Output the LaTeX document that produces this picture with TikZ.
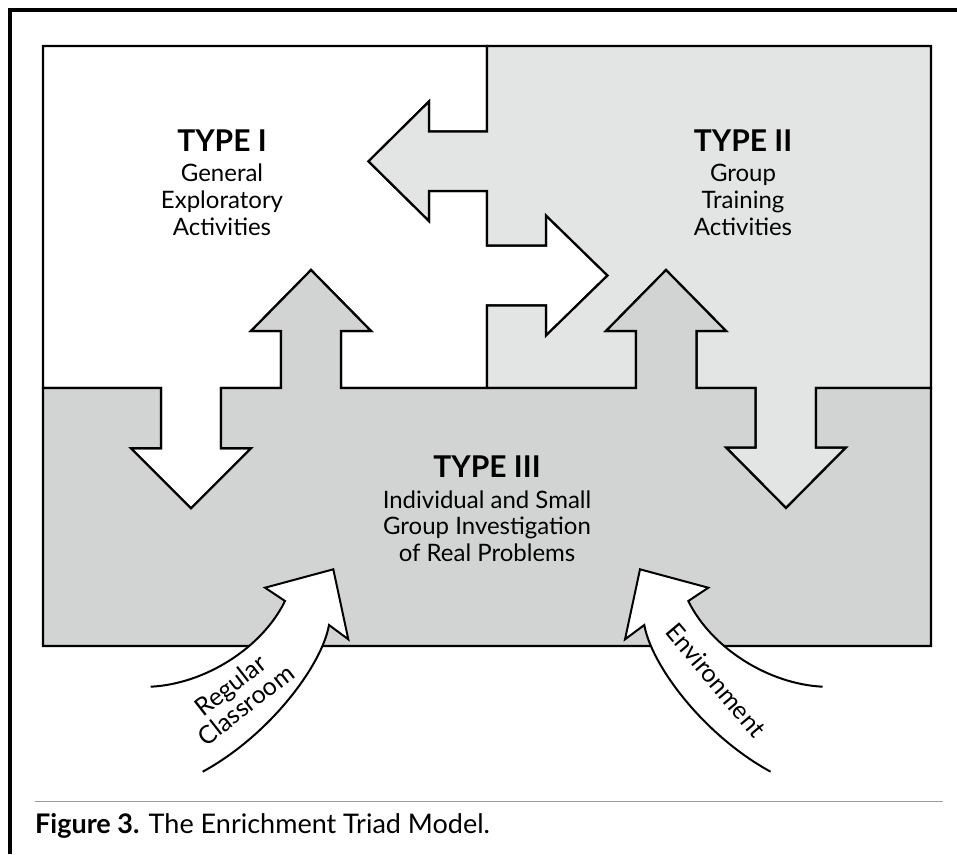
\documentclass[tikz,border=0pt]{standalone}
\usepackage{fontspec}
\setmainfont{Lato}
\definecolor{typetwo}{HTML}{E3E5E4}
\definecolor{typethree}{HTML}{D2D3D3}
\definecolor{capline}{HTML}{9C9C9C}
\begin{document}
\begin{tikzpicture}[x=1pt,y=-1pt,
  region/.style={draw=black,line width=2.2pt,line join=miter},
  curvearrow/.style={draw=black,fill=white,line width=2pt,line join=miter},
  titletext/.style={anchor=base,inner sep=0pt,font=\fontsize{30}{32}\selectfont\bfseries},
  bodytext/.style={anchor=base,inner sep=0pt,font=\fontsize{24}{27}\selectfont},
  arrowtext/.style={align=center,inner sep=0pt,font=\fontsize{25}{25}\selectfont}]
\useasboundingbox (0,0) rectangle (957,854);
% outer frame
\coordinate (frameTL) at (10,10);
\coordinate (frameTR) at (957,10);
\coordinate (frameBL) at (10,854);
\draw[line width=3.5pt] (frameTR) -- (frameTL) -- (frameBL);
% Type I region (white)
\path[region,fill=white] (43,46) -- (487,46) -- (487,131.5) -- (429,131.5) -- (429,101.5)
  -- (368.5,161.3) -- (429,221) -- (429,191) -- (487,191) -- (487,245.5) -- (546,245.5)
  -- (546,215.5) -- (607.5,275.5) -- (546,335.5) -- (546,305.5) -- (487,305.5) -- (487,388)
  -- (341,388) -- (341,331) -- (371,331) -- (311,270) -- (251,331) -- (281,331) -- (281,388)
  -- (221,388) -- (221,448.3) -- (251,448.3) -- (191,508.3) -- (131,448.3) -- (161,448.3)
  -- (161,388) -- (43,388) -- cycle;
% Type II region (light grey)
\path[region,fill=typetwo] (487,46) -- (931,46) -- (931,388) -- (816,388) -- (816,447.5)
  -- (846,447.5) -- (786,508) -- (726,447.5) -- (755.5,447.5) -- (755.5,388) -- (696.5,388)
  -- (696.5,331) -- (726,331) -- (666,270) -- (606,331) -- (636,331) -- (636,388) -- (487,388)
  -- (487,305.5) -- (546,305.5) -- (546,335.5) -- (607.5,275.5) -- (546,215.5) -- (546,245.5)
  -- (487,245.5) -- (487,191) -- (429,191) -- (429,221) -- (368.5,161.3) -- (429,101.5)
  -- (429,131.5) -- (487,131.5) -- cycle;
% Type III region (grey)
\path[region,fill=typethree] (43,388) -- (161,388) -- (161,448.3) -- (131,448.3) -- (191,508.3)
  -- (251,448.3) -- (221,448.3) -- (221,388) -- (281,388) -- (281,331) -- (251,331) -- (311,270)
  -- (371,331) -- (341,331) -- (341,388) -- (636,388) -- (636,331) -- (606,331) -- (666,270)
  -- (726,331) -- (696.5,331) -- (696.5,388) -- (755.5,388) -- (755.5,447.5) -- (726,447.5)
  -- (786,508) -- (846,447.5) -- (816,447.5) -- (816,388) -- (931,388) -- (931,646) -- (43,646)
  -- cycle;
% texts
\node[titletext] (t1) at (222,151) {TYPE I};
\node[bodytext] (t1a) at (222,181) {General};
\node[bodytext] (t1b) at (222,208) {Exploratory};
\node[bodytext] (t1c) at (222,235) {Activities};
\node[titletext] (t2) at (743,151) {TYPE II};
\node[bodytext] (t2a) at (743,181) {Group};
\node[bodytext] (t2b) at (743,208) {Training};
\node[bodytext] (t2c) at (743,235) {Activities};
\node[titletext] (t3) at (487,477) {TYPE III};
\node[bodytext] (t3a) at (487,508) {Individual and Small};
\node[bodytext] (t3b) at (487,534.5) {Group Investigation};
\node[bodytext] (t3c) at (487,561) {of Real Problems};
% curved arrows
\path[curvearrow] (150.7,686.7) .. controls (205,684) and (262,648) .. (285,601)
  -- (265,587.7) -- (333.3,569.3) -- (348.3,639.3) -- (329,625)
  .. controls (322,665) and (270,735) .. (202.7,771.7);
\path[curvearrow] (822.6,686.7) .. controls (768.3,684) and (711.3,648) .. (688.3,601)
  -- (708.3,587.7) -- (640,569.3) -- (625,639.3) -- (644.3,625)
  .. controls (651.3,665) and (703.3,735) .. (770.6,771.7);
\node[arrowtext,rotate=38] (rc) at (238,695) {Regular\\Classroom};
\node[arrowtext,rotate=-50] (env) at (716,680) {Environment};
% caption
\coordinate (capL) at (35,801.7);
\coordinate (capR) at (943,801.7);
\draw[capline,line width=1.5pt] (capL) -- (capR);
\node[anchor=base west,inner sep=0pt,font=\fontsize{27}{30}\selectfont] (cap) at (35,833)
  {\textbf{Figure 3.} The Enrichment Triad Model.};
\end{tikzpicture}
\end{document}
